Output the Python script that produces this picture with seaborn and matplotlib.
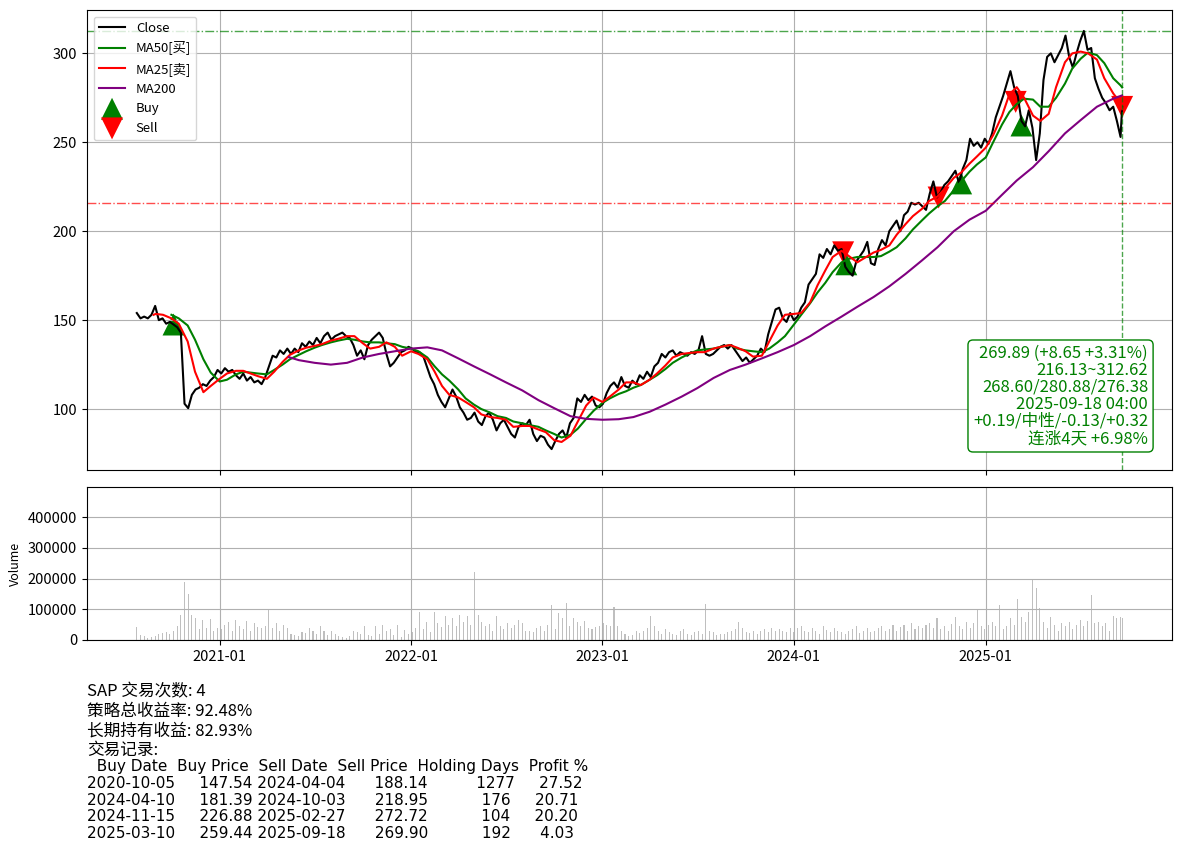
# -*- coding: utf-8 -*-
# SAP 均线交易策略回测图: 收盘价 + 均线 + 买卖点 + 成交量 + 交易记录

import pandas as pd
import numpy as np
import matplotlib
matplotlib.use('Agg')
import matplotlib.pyplot as plt
import matplotlib.dates as mdates
import seaborn as sns

# ---------------- 数据 ----------------
symbol = 'SAP'

# 周线收盘价 (每周一), 最后一个点为 2025-09-18
close_dates = pd.date_range('2020-07-27', '2025-09-15', freq='W-MON').append(
    pd.DatetimeIndex(['2025-09-18']))
close = [
    154, 151, 152, 151, 153, 158, 150, 151, 148, 149,
    147.54, 146, 143, 103, 100.5, 108, 111, 112, 114, 113,
    116, 118, 122, 120, 123, 121, 122, 119, 117, 120,
    116, 118, 115, 116, 114, 118, 124, 130, 129, 133,
    131, 134, 131, 134, 132, 137, 135, 138, 136, 140,
    137, 141, 143, 139, 141, 142, 143, 141, 140, 136,
    130, 133, 128, 136, 139, 141, 143, 140, 131, 124,
    126, 129, 132, 133, 135, 134, 132, 132, 130, 124,
    118, 114, 108, 104, 101, 106, 111, 107, 101, 98,
    94, 95, 98, 93, 91, 96, 98, 94, 88, 92,
    94, 90, 86, 84, 90, 92, 91, 94, 86, 82,
    85, 84, 80, 77.5, 82, 86, 88, 84, 92, 95,
    106, 104, 108, 105, 107, 102, 101, 103, 109, 113,
    115, 112, 118, 113, 112, 116, 114, 119, 117, 121,
    118, 124, 126, 131, 129, 132, 133, 130, 132, 131,
    130, 132, 131, 133, 141, 131, 130, 131, 133, 135,
    136, 134, 136, 133, 130, 127, 129, 126, 128, 130,
    134, 132, 142, 149, 156, 157, 151, 149, 154, 150,
    152, 157, 160, 170, 173, 176, 187, 185, 190, 187,
    192, 189, 190, 180, 177, 175, 183, 186, 189, 194,
    182, 181, 190, 195, 192, 200, 203, 206, 200, 209,
    211, 216, 215, 216, 214, 212, 221, 228, 219, 222,
    226, 228, 231, 234, 227, 235, 240, 252, 248, 250,
    247, 252, 249, 255, 264, 270, 276, 283, 290, 281,
    276, 262, 259, 268, 258, 240, 255, 285, 298, 300,
    295, 299, 303, 310, 298, 292, 300, 307, 312.62, 302,
    303, 286, 280, 275, 272, 268, 270, 262, 253,
    269.89,
]

# 成交量 (千股)
volume_k = [
    43, 15, 12, 8, 10, 14, 18, 22, 25, 20,
    28, 45, 82, 190, 150, 80, 70, 35, 65, 40,
    68, 30, 40, 35, 50, 60, 30, 65, 45, 35,
    62, 30, 55, 42, 38, 45, 100, 40, 55, 30,
    48, 40, 20, 15, 12, 25, 22, 38, 28, 18,
    45, 30, 15, 28, 20, 12, 10, 8, 12, 30,
    25, 18, 45, 15, 12, 45, 20, 50, 28, 35,
    15, 50, 10, 32, 20, 25, 40, 92, 35, 60,
    25, 92, 55, 42, 78, 50, 72, 45, 80, 60,
    78, 50, 222, 80, 58, 45, 52, 30, 78, 45,
    35, 55, 40, 48, 65, 55, 30, 28, 25, 40,
    45, 30, 50, 113, 35, 88, 70, 120, 45, 72,
    58, 45, 62, 40, 35, 42, 45, 55, 50, 45,
    108, 45, 30, 18, 12, 15, 28, 22, 30, 40,
    78, 45, 30, 20, 35, 25, 20, 15, 28, 35,
    20, 15, 25, 30, 20, 117, 30, 25, 15, 20,
    18, 25, 30, 35, 60, 40, 25, 22, 30, 18,
    28, 35, 25, 40, 30, 35, 28, 25, 40, 25,
    38, 45, 30, 25, 40, 28, 20, 45, 32, 25,
    40, 30, 25, 18, 28, 35, 45, 22, 30, 40,
    25, 30, 38, 45, 28, 35, 50, 30, 42, 48,
    30, 55, 35, 45, 38, 50, 55, 40, 70, 35,
    45, 30, 52, 74, 45, 35, 60, 40, 55, 100,
    45, 35, 50, 60, 45, 114, 35, 45, 70, 50,
    134, 75, 60, 90, 199, 168, 105, 60, 40, 75,
    50, 30, 55, 45, 60, 35, 50, 65, 45, 62,
    147, 55, 60, 45, 55, 30, 78, 72, 75,
    70,
]

# MA25 (半月取点)
ma25_dates = pd.DatetimeIndex(['2020-08-28']).append(
    pd.date_range('2020-09-01', '2025-09-15', freq='SMS')).append(
    pd.DatetimeIndex(['2025-09-18']))
ma25 = [
    153,
    153.5, 153, 151, 148, 138, 121, 109.5, 113,
    117, 120, 121.5, 121.5, 120, 118.5, 117, 121, 126.5, 130.5, 133, 134.5,
    135.5, 136.5, 138.5, 139.5, 141, 141, 137, 134, 135, 137.5, 135, 130,
    132.5, 131, 128, 121, 113, 108, 106.5, 104, 101, 97, 95.5, 95,
    94, 90, 90.5, 90.5, 88.5, 87, 82.5, 81.5, 85, 93, 102, 106.5,
    104, 107, 111, 115, 115, 113.5, 116.5, 120, 124.5, 129, 131, 131.5,
    132, 132, 134, 135, 136, 134.5, 132.5, 129.5, 130, 138, 147, 153,
    153.5, 154, 160, 169.5, 178, 185.5, 189, 186, 182.5, 185, 188, 189.5,
    192, 198, 204, 208.5, 212.5, 217, 219.5, 224, 230, 233, 238, 242,
    247, 254, 265, 277, 281, 275, 265, 262, 266, 281, 295, 300,
    301, 300, 296.5, 286, 277.5, 272,
    268.60,
]

# MA50 (半月取点)
ma50_dates = pd.date_range('2020-10-01', '2025-09-15', freq='SMS').append(
    pd.DatetimeIndex(['2025-09-18']))
ma50 = [
    153, 151, 147, 139, 128, 120.5,
    115.5, 116.5, 119.5, 121, 120.5, 120, 119.5, 122, 125, 128, 130.5, 132.5,
    134.5, 136, 137.5, 138.5, 139.5, 139, 138, 137.5, 137.5, 137, 136.5, 135,
    134, 132.5, 129, 124, 119.5, 116, 111, 106, 102.5, 100, 98, 96,
    95, 93, 92, 91, 90, 88, 86, 84, 85.5, 89, 94.5, 99,
    103.5, 106, 108.5, 110, 112, 113.5, 116.5, 119, 122.5, 126, 129, 131,
    133, 133.5, 134, 135, 136, 134, 133, 132.5, 132, 134, 137.5, 141,
    147.5, 153, 159.5, 165.5, 171, 177, 182.5, 184.5, 185.5, 185.5, 185.5, 186,
    188.5, 191, 196, 201, 206, 210, 214, 217, 223, 228, 233.5, 237.5,
    241.5, 250, 260, 267, 271.5, 274.5, 274, 270, 270, 275, 283, 291.5,
    297, 300.5, 299, 294.5, 286, 282,
    280.88,
]

# MA200 (月度取点)
ma200_dates = pd.DatetimeIndex(['2021-05-13']).append(
    pd.date_range('2021-06-01', '2025-09-01', freq='MS')).append(
    pd.DatetimeIndex(['2025-09-18']))
ma200 = [
    129.2, 127.5, 126, 125, 126, 129, 131, 132.5,
    134, 134.7, 133, 128.5, 124, 119.5, 115, 110.5, 105, 100.5, 96, 94.5,
    94, 94.3, 95.5, 98.5, 102.5, 107, 111.8, 117.5, 122, 125, 128.5, 132,
    136, 141, 146.5, 152, 157.5, 163, 169, 176, 183.5, 191, 200, 206.5,
    211.5, 220.5, 228.5, 236, 245, 255, 262.5, 270, 274.5,
    276.38,
]

# 交易记录
buy_dates = ['2020-10-05', '2024-04-10', '2024-11-15', '2025-03-10']
buy_prices = [147.54, 181.39, 226.88, 259.44]
sell_dates = ['2024-04-04', '2024-10-03', '2025-02-27', '2025-09-18']
sell_prices = [188.14, 218.95, 272.72, 269.90]
holding_days = [1277, 176, 104, 192]
profit_pct = [27.52, 20.71, 20.20, 4.03]

strategy_return = 92.48
hold_return = 82.93

# 52周区间与最新行情
range_low = 216.13
range_high = 312.62
last_close = 269.89
last_change = 8.65
last_change_pct = 3.31
last_time = '2025-09-18 04:00'
ma_last = [268.60, 280.88, 276.38]
signal_text = '+0.19/中性/-0.13/+0.32'
streak_days = 4
streak_pct = 6.98

# ---------------- 绘图 ----------------
plt.rcParams['font.family'] = ['Noto Sans CJK SC', 'DejaVu Sans']
plt.rcParams['axes.unicode_minus'] = False

fig = plt.figure(figsize=(11.8, 8.55), dpi=100)
ax1 = fig.add_axes([0.0737, 0.4503, 0.9195, 0.538])
ax2 = fig.add_axes([0.0737, 0.2515, 0.9195, 0.179], sharex=ax1)

# 价格和均线
sns.lineplot(x=close_dates, y=close, ax=ax1, color='black', linewidth=1.5, label='Close')
sns.lineplot(x=ma50_dates, y=ma50, ax=ax1, color='green', linewidth=1.5, label='MA50[买]')
sns.lineplot(x=ma25_dates, y=ma25, ax=ax1, color='red', linewidth=1.5, label='MA25[卖]')
sns.lineplot(x=ma200_dates, y=ma200, ax=ax1, color='purple', linewidth=1.5, label='MA200')

# 买卖点
sns.scatterplot(x=pd.to_datetime(buy_dates), y=buy_prices, ax=ax1, marker='^', s=250,
                color='green', edgecolor='none', label='Buy')
sns.scatterplot(x=pd.to_datetime(sell_dates), y=sell_prices, ax=ax1, marker='v', s=250,
                color='red', edgecolor='none', label='Sell')

ax1.axhline(range_high, color='green', linestyle='-.', linewidth=1, alpha=0.7)
ax1.axhline(range_low, color='red', linestyle='-.', linewidth=1, alpha=0.7)
ax1.axvline(pd.Timestamp('2025-09-18'), color='green', linestyle='--', linewidth=1, alpha=0.7)

ax1.grid(True)
ax1.legend(loc='upper left', fontsize=9.5)
ax1.tick_params(labelbottom=False, labelsize=10.5)
ax1.set_xlabel('')
ax1.set_ylabel('')

info = (f'{last_close:.2f} (+{last_change:.2f} +{last_change_pct:.2f}%)\n'
        f'{range_low:.2f}~{range_high:.2f}\n'
        f'{ma_last[0]:.2f}/{ma_last[1]:.2f}/{ma_last[2]:.2f}\n'
        f'{last_time}\n'
        f'{signal_text}\n'
        f'连涨{streak_days}天 +{streak_pct:.2f}%')
ax1.text(0.978, 0.05, info, transform=ax1.transAxes, ha='right', va='bottom',
         fontsize=12, color='green', linespacing=1.0,
         bbox=dict(boxstyle='round,pad=0.3', facecolor='white', edgecolor='green'))

# 成交量
ax2.bar(close_dates, np.array(volume_k) * 1000, width=2, color='gray', alpha=0.5)
ax2.set_ylim(0, 498000)
ax2.set_ylabel('Volume', fontsize=9)
ax2.grid(True)
ax2.xaxis.set_major_locator(mdates.YearLocator())
ax2.xaxis.set_major_formatter(mdates.DateFormatter('%Y-%m'))
ax2.tick_params(labelsize=10.5)

# 交易记录文字
trades = pd.DataFrame({
    'Buy Date': buy_dates,
    'Buy Price': buy_prices,
    'Sell Date': sell_dates,
    'Sell Price': sell_prices,
    'Holding Days': holding_days,
    'Profit %': profit_pct,
})
summary = (f'{symbol} 交易次数: {len(trades)}\n'
           f'策略总收益率: {strategy_return:.2f}%\n'
           f'长期持有收益: {hold_return:.2f}%\n'
           '交易记录:')
fig.text(0.0737, 0.2012, summary, fontsize=12, va='top', ha='left')
fig.text(0.0737, 0.1123, trades.to_string(index=False), fontsize=11, va='top', ha='left',
         family='DejaVu Sans', linespacing=1.15)

fig.savefig('out.png', dpi=100)
